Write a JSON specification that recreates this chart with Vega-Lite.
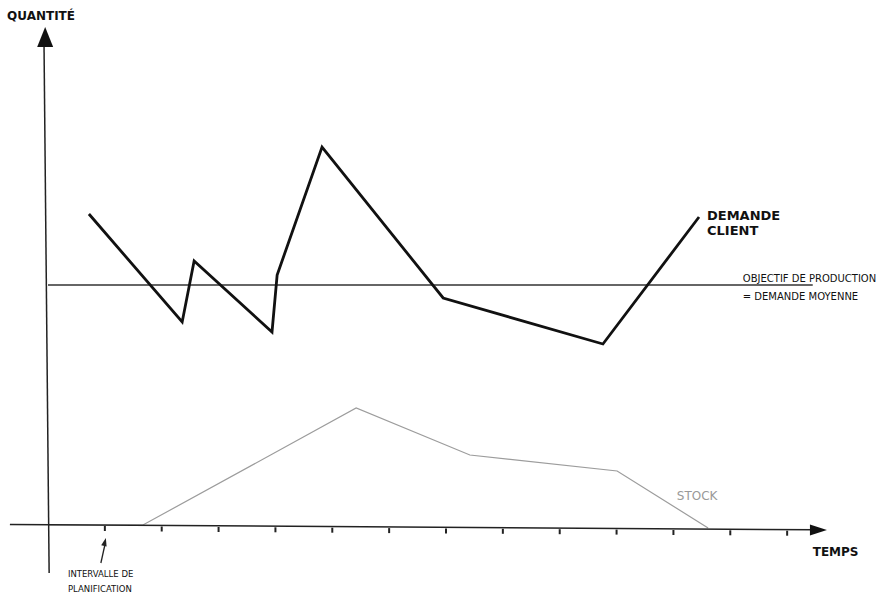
{
  "$schema": "https://vega.github.io/schema/vega-lite/v6.json",
  "width": 887,
  "height": 600,
  "autosize": "none",
  "padding": 0,
  "background": "white",
  "config": {"view": {"stroke": null}},
  "datasets": {
    "axes": [
      {"name": "quantite", "t": 0.02, "q": -9.6, "t2": -0.07, "q2": 96},
      {"name": "temps", "t": -0.67, "q": 0.1, "t2": 13.5, "q2": -0.95}
    ],
    "objectif": [{"t": 0, "q": 48, "t2": 13.45}],
    "stock": [
      {"t": 0, "q": 0},
      {"t": 1.67, "q": 0},
      {"t": 5.42, "q": 23.4},
      {"t": 7.42, "q": 14},
      {"t": 10.01, "q": 10.8},
      {"t": 11.61, "q": -0.6}
    ],
    "demande": [
      {"t": 0.72, "q": 62.2},
      {"t": 2.36, "q": 40.6},
      {"t": 2.57, "q": 52.8},
      {"t": 3.94, "q": 38.6},
      {"t": 4.03, "q": 50},
      {"t": 4.82, "q": 75.6},
      {"t": 6.95, "q": 45.4},
      {"t": 9.76, "q": 36.2},
      {"t": 11.45, "q": 61.6}
    ],
    "ticks": [
      {"t": 1, "q": -0.2, "q2": -1.2},
      {"t": 2, "q": -0.3, "q2": -1.3},
      {"t": 3, "q": -0.4, "q2": -1.4},
      {"t": 4, "q": -0.46, "q2": -1.46},
      {"t": 5, "q": -0.54, "q2": -1.54},
      {"t": 6, "q": -0.62, "q2": -1.62},
      {"t": 7, "q": -0.7, "q2": -1.7},
      {"t": 8, "q": -0.76, "q2": -1.76},
      {"t": 9, "q": -0.84, "q2": -1.84},
      {"t": 10, "q": -0.92, "q2": -1.92},
      {"t": 11, "q": -1.0, "q2": -2.0},
      {"t": 12, "q": -1.06, "q2": -2.06},
      {"t": 13, "q": -1.14, "q2": -2.14}
    ]
  },
  "encoding": {
    "x": {"field": "t", "type": "quantitative", "axis": null, "scale": {"domain": [0, 14], "range": [48, 844], "nice": false, "zero": false}},
    "y": {"field": "q", "type": "quantitative", "axis": null, "scale": {"domain": [0, 100], "range": [525, 25], "nice": false, "zero": false}}
  },
  "layer": [
    {
      "data": {"name": "stock"},
      "mark": {"type": "line", "color": "#9c9c9c", "strokeWidth": 1.2}
    },
    {
      "data": {"name": "axes"},
      "mark": {"type": "rule", "color": "#222222", "strokeWidth": 1.5},
      "encoding": {"x2": {"field": "t2"}, "y2": {"field": "q2"}}
    },
    {
      "data": {"name": "ticks"},
      "mark": {"type": "rule", "color": "#222222", "strokeWidth": 2},
      "encoding": {"y2": {"field": "q2"}}
    },
    {
      "data": {"name": "objectif"},
      "mark": {"type": "rule", "color": "#333333", "strokeWidth": 1.5},
      "encoding": {"x2": {"field": "t2"}}
    },
    {
      "data": {"name": "demande"},
      "mark": {"type": "line", "color": "#111111", "strokeWidth": 2.8, "strokeJoin": "miter"}
    },
    {
      "data": {"values": [{"t": -0.05, "q": 97.6}]},
      "mark": {"type": "point", "shape": "M0,-1L0.8,1L-0.8,1Z", "size": 400, "filled": true, "color": "#111111", "opacity": 1}
    },
    {
      "data": {"values": [{"t": 13.55, "q": -1.0}]},
      "mark": {"type": "point", "shape": "M1,0L-1,-0.65L-1,0.65Z", "size": 289, "filled": true, "color": "#111111", "opacity": 1}
    },
    {
      "data": {"values": [{"t": 0.93, "q": -7.6, "t2": 1.0, "q2": -4.0}]},
      "mark": {"type": "rule", "color": "#222222", "strokeWidth": 1.3},
      "encoding": {"x2": {"field": "t2"}, "y2": {"field": "q2"}}
    },
    {
      "data": {"values": [{"t": 1.0, "q": -3.4}]},
      "mark": {"type": "point", "shape": "M0,-1L0.7,1L-0.7,1Z", "size": 64, "angle": 14, "filled": true, "color": "#222222", "opacity": 1}
    },
    {
      "data": {"values": [
        {"label": "QUANTITÉ", "t": -0.72, "q": 101},
        {"label": "TEMPS", "t": 13.45, "q": -6.2}
      ]},
      "mark": {"type": "text", "align": "left", "baseline": "alphabetic", "font": "DejaVu Sans", "fontSize": 12, "fontWeight": "bold", "color": "#111111"},
      "encoding": {"text": {"field": "label"}}
    },
    {
      "data": {"values": [{"label": "DEMANDE\nCLIENT", "t": 11.59, "q": 61}]},
      "mark": {"type": "text", "align": "left", "baseline": "alphabetic", "font": "DejaVu Sans", "fontSize": 13, "fontWeight": "bold", "lineBreak": "\n", "lineHeight": 15, "color": "#111111"},
      "encoding": {"text": {"field": "label"}}
    },
    {
      "data": {"values": [
        {"label": "OBJECTIF DE PRODUCTION", "t": 12.22, "q": 48.6},
        {"label": "= DEMANDE MOYENNE", "t": 12.22, "q": 45}
      ]},
      "mark": {"type": "text", "align": "left", "baseline": "alphabetic", "font": "DejaVu Sans", "fontSize": 10, "color": "#111111"},
      "encoding": {"text": {"field": "label"}}
    },
    {
      "data": {"values": [{"label": "STOCK", "t": 11.06, "q": 5}]},
      "mark": {"type": "text", "align": "left", "baseline": "alphabetic", "font": "DejaVu Sans", "fontSize": 12, "color": "#999999"},
      "encoding": {"text": {"field": "label"}}
    },
    {
      "data": {"values": [{"label": "INTERVALLE DE\nPLANIFICATION", "t": 0.35, "q": -10.4}]},
      "mark": {"type": "text", "align": "left", "baseline": "alphabetic", "font": "DejaVu Sans", "fontSize": 8.5, "lineBreak": "\n", "lineHeight": 15, "color": "#111111"},
      "encoding": {"text": {"field": "label"}}
    }
  ]
}
